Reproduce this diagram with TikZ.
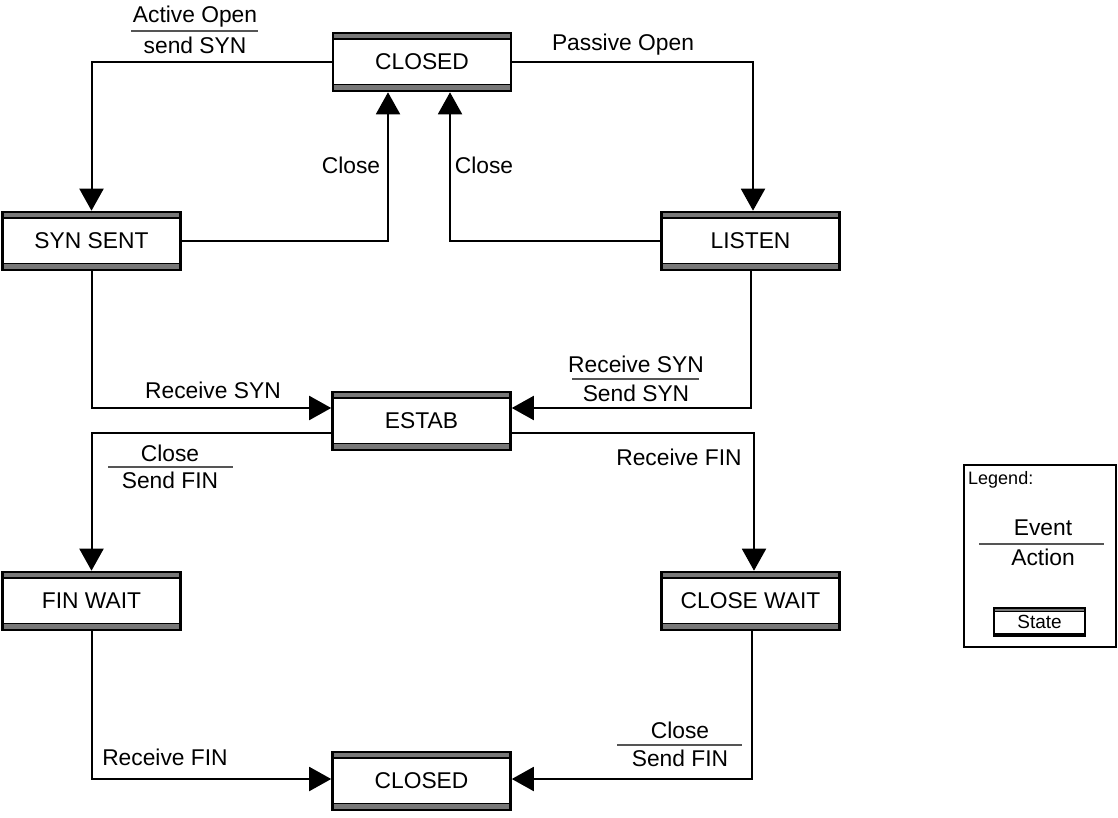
\documentclass[tikz,border=0pt]{standalone}
\usepackage{fontspec}
\setmainfont{Liberation Sans}
\usetikzlibrary{arrows.meta}
\definecolor{bandgray}{RGB}{120,120,120}
\definecolor{rulegray}{RGB}{85,85,85}
\begin{document}
\begin{tikzpicture}[x=1pt,y=-1pt,
  base/.style={font=\fontsize{22.8}{27}\selectfont},
  statebox/.style={base, draw=black, line width=2.6pt, fill=white, rectangle,
    minimum width=178pt, minimum height=58pt, inner sep=0pt,
    path picture={
      \fill[bandgray] ([yshift=-1pt]path picture bounding box.north west) rectangle ([yshift=-5.8pt]path picture bounding box.north east);
      \draw[line width=1.6pt] ([yshift=-6.2pt]path picture bounding box.north west) -- ([yshift=-6.2pt]path picture bounding box.north east);
      \fill[bandgray] ([yshift=1pt]path picture bounding box.south west) rectangle ([yshift=6.2pt]path picture bounding box.south east);
      \draw[line width=1.6pt] ([yshift=6.6pt]path picture bounding box.south west) -- ([yshift=6.6pt]path picture bounding box.south east);
    }},
  legstate/.style={font=\fontsize{19}{22}\selectfont, draw=black, line width=2.6pt, fill=white, rectangle,
    minimum width=91pt, minimum height=28pt, inner sep=0pt,
    path picture={
      \fill[bandgray] ([yshift=-1pt]path picture bounding box.north west) rectangle ([yshift=-2.8pt]path picture bounding box.north east);
      \draw[line width=1pt] ([yshift=-3.2pt]path picture bounding box.north west) -- ([yshift=-3.2pt]path picture bounding box.north east);
      \draw[line width=2.4pt] ([yshift=2pt]path picture bounding box.south west) -- ([yshift=2pt]path picture bounding box.south east);
    }},
  lbl/.style={base, inner sep=0pt},
  divider/.style={draw=rulegray, line width=1.5pt},
  conn/.style={draw=black, line width=2pt, -{Triangle[length=22pt,width=24pt]}}
]
\useasboundingbox (0,0) rectangle (1118,818);

% states
\node[statebox] (closedT) at (422,62) {CLOSED};
\node[statebox] (synsent) at (91.5,241) {SYN SENT};
\node[statebox] (listen) at (750.5,241) {LISTEN};
\node[statebox] (estab) at (421.5,421) {ESTAB};
\node[statebox] (finwait) at (91.5,601) {FIN WAIT};
\node[statebox] (closewait) at (750.5,601) {CLOSE WAIT};
\node[statebox] (closedB) at (421.5,781) {CLOSED};

% connectors
\draw[conn] (closedT.west) -| (synsent.north);
\draw[conn] (closedT.east) -| ([xshift=2.5pt]listen.north);
\draw[conn] (synsent.east) -| ([xshift=-34pt]closedT.south);
\draw[conn] (listen.west) -| ([xshift=28pt]closedT.south);
\draw[conn] (synsent.south) |- ([yshift=13pt]estab.west);
\draw[conn] (listen.south) |- ([yshift=13pt]estab.east);
\draw[conn] ([yshift=-12pt]estab.west) -| (finwait.north);
\draw[conn] ([yshift=-12pt]estab.east) -| ([xshift=3.5pt]closewait.north);
\draw[conn] (finwait.south) |- ([yshift=2pt]closedB.west);
\draw[conn] ([xshift=1.5pt]closewait.south) |- ([yshift=2pt]closedB.east);

% labels
\node[lbl] (l1a) at (195,17) {Active Open};
\node[lbl] (l1b) at (195,45) {send SYN};
\draw[divider] (131,31) -- (258,31);
\node[lbl] (l2) at (623,45) {Passive Open};
\node[lbl] (l3) at (351,165) {Close};
\node[lbl] (l4) at (484,165) {Close};
\node[lbl] (l5) at (213,390) {Receive SYN};
\node[lbl] (l6a) at (636,364) {Receive SYN};
\node[lbl] (l6b) at (636,393) {Send SYN};
\draw[divider] (572,379) -- (699,379);
\node[lbl] (l7a) at (170,453) {Close};
\node[lbl] (l7b) at (170,480) {Send FIN};
\draw[divider] (108,467) -- (233,467);
\node[lbl] (l8) at (679,457) {Receive FIN};
\node[lbl] (l9) at (165,757) {Receive FIN};
\node[lbl] (l10a) at (680,730) {Close};
\node[lbl] (l10b) at (680,758) {Send FIN};
\draw[divider] (617,745) -- (742,745);

% legend
\draw[black, line width=1.3pt] (964,465) rectangle (1116,647);
\node[font=\fontsize{18}{21}\selectfont, anchor=west, inner sep=0pt] (legtitle) at (968,480) {Legend:};
\node[lbl] (legev) at (1043,528) {Event};
\node[lbl] (legac) at (1043,557) {Action};
\draw[divider] (979,544) -- (1104,544);
\node[legstate] (legst) at (1039.5,622) {State};
\end{tikzpicture}
\end{document}
